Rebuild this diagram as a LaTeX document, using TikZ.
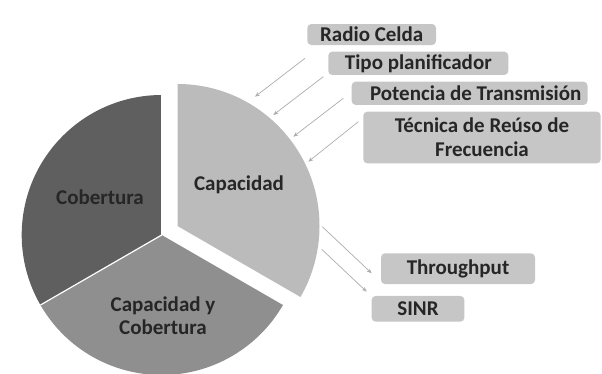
\documentclass[tikz,border=0pt]{standalone}
\usepackage{fontspec}
\setmainfont{Carlito}
\usetikzlibrary{arrows.meta}
\definecolor{cobc}{HTML}{5F5F5F}
\definecolor{cycc}{HTML}{8F8F8F}
\definecolor{capc}{HTML}{BBBBBB}
\definecolor{boxc}{HTML}{C6C6C6}
\definecolor{txtc}{HTML}{262626}
\definecolor{arrc}{HTML}{ACACAC}
\tikzset{
  slice/.style={draw=white, line width=1.2pt},
  tagbox/.style={fill=boxc, rounded corners=4pt, inner sep=0pt, text=txtc,
    font=\fontsize{21}{25}\selectfont\bfseries, align=center},
  pielabel/.style={text=txtc, font=\fontsize{21}{25}\selectfont\bfseries, align=center},
  feed/.style={draw=arrc, line width=0.7pt, -{Stealth[length=5pt,width=4pt]}}
}
\begin{document}
\begin{tikzpicture}[x=1pt,y=-1pt]
\useasboundingbox (0,0) rectangle (602,373);
% pie
\coordinate (pc) at (161.7,235);
\coordinate (qc) at (177.5,226);
\fill[cobc] (pc) -- +(-90:140) arc[start angle=-90,end angle=-210,radius=140] -- cycle;
\fill[cycc] (pc) -- +(-210:140) arc[start angle=-210,end angle=-330,radius=140] -- cycle;
\draw[slice] (pc) -- +(-210:140);
\draw[slice] (pc) -- +(-90:140);
\fill[capc] (qc) -- +(-90:142) arc[start angle=-90,end angle=30,radius=142] -- cycle;
\node[pielabel] (cob) at (100,197) {Cobertura};
\node[pielabel] (cap) at (239,185) {Capacidad};
\node[pielabel] (cyc) at (163,316) {Capacidad y\\[-2pt]Cobertura};
% input boxes
\node[tagbox, minimum width=128.7pt, minimum height=21pt] (radio) at (371.7,34.5) {Radio Celda};
\node[tagbox, minimum width=180pt, minimum height=23.3pt] (tipo) at (418.3,63.3) {Tipo planificador};
\node[tagbox, minimum width=235.8pt, minimum height=23.3pt] (pot) at (469.6,93.3) {};
\node[text=txtc, font=\fontsize{21}{25}\selectfont\bfseries, inner sep=0pt] (pott) at (475.7,93.3) {Potencia de Transmisión};
\node[tagbox, minimum width=237.4pt, minimum height=51.7pt] (tec) at (482,137.5) {Técnica de Reúso de\\[-1pt]Frecuencia};
% output boxes
\node[tagbox, minimum width=154pt, minimum height=30.7pt] (thr) at (458,268.7) {Throughput};
\node[tagbox, minimum width=92.7pt, minimum height=25.7pt] (sinr) at (418,308.8) {SINR};
% arrows in
\coordinate (a1s) at (305,58.3);   \coordinate (a1e) at (255,96.7);
\coordinate (a2s) at (323.3,76.7); \coordinate (a2e) at (273.3,115);
\coordinate (a3s) at (343.3,98.3); \coordinate (a3e) at (293.3,136.7);
\coordinate (a4s) at (358.3,121.7);\coordinate (a4e) at (308.3,161.7);
\draw[feed] (a1s) -- (a1e);
\draw[feed] (a2s) -- (a2e);
\draw[feed] (a3s) -- (a3e);
\draw[feed] (a4s) -- (a4e);
% arrows out
\coordinate (b1s) at (322.3,226.7); \coordinate (b1e) at (371.7,273.3);
\coordinate (b2s) at (321.7,249.3); \coordinate (b2e) at (366.7,291.7);
\draw[feed] (b1s) -- (b1e);
\draw[feed] (b2s) -- (b2e);
\end{tikzpicture}
\end{document}
